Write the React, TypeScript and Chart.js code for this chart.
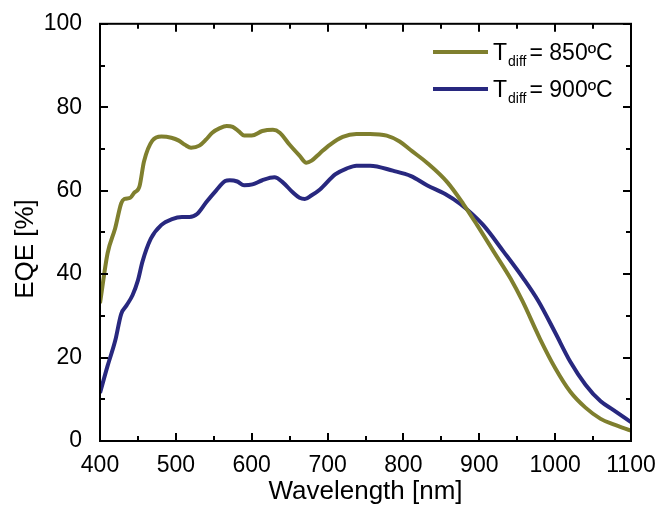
import React, { useEffect, useRef } from "react";
import { Chart, registerables } from "chart.js";

Chart.register(...registerables);

const wl850 = [400, 410, 420, 428, 432, 440, 445, 452, 458, 469, 481, 494, 504, 512, 520, 531, 540, 548, 558, 567, 575, 583, 590, 600, 614, 628, 637, 650, 663, 672, 679, 690, 703, 720, 738, 756, 778, 795, 809, 831, 858, 879, 897, 919, 941, 957, 980, 1000, 1020, 1040, 1060, 1077, 1100];
const eqe850 = [33, 45, 51, 57, 58, 58.3, 59.5, 61, 67, 72, 73, 72.7, 72, 71, 70.3, 70.8, 72.3, 73.9, 75, 75.5, 75.3, 74.2, 73.2, 73.2, 74.3, 74.6, 73.9, 71, 68.4, 66.7, 67.2, 69, 71, 72.9, 73.6, 73.6, 73.2, 71.8, 69.8, 66.7, 62, 56.8, 51.8, 45.4, 39, 33.5, 24.5, 17.5, 11.8, 8, 5.3, 4, 2.5];

const wl900 = [400, 410, 420, 428, 435, 443, 450, 456, 467, 481, 495, 508, 518, 528, 540, 553, 565, 571, 581, 590, 601, 614, 630, 641, 654, 663, 670, 679, 690, 710, 725, 738, 756, 786, 810, 831, 855, 875, 905, 932, 958, 978, 1000, 1020, 1040, 1060, 1077, 1100];
const eqe900 = [11.5, 18, 24, 30.5, 32.5, 35, 38.5, 43, 48.5, 51.8, 53.2, 53.7, 53.7, 54.4, 57.2, 60, 62.3, 62.5, 62.2, 61.3, 61.5, 62.5, 63.2, 62, 59.6, 58.3, 58, 58.9, 60.3, 63.9, 65.3, 66, 66, 64.8, 63.5, 61.3, 59.2, 56.8, 51.8, 45.4, 39, 33.5, 26, 19, 13.5, 9.5, 7.4, 4.5];

const seriesLabels = ["850ºC", "900ºC"];
const seriesColors = ["#7f7f2e", "#28287f"];
const xTitle = "Wavelength [nm]";
const yTitle = "EQE [%]";
const FONT = "'Liberation Sans', Arial, sans-serif";

const framePlugin = {
  id: "frameTicks",
  afterDraw(chart: any) {
    const { ctx, chartArea } = chart;
    const { left, right, top, bottom } = chartArea;
    const xs = chart.scales.x;
    const ys = chart.scales.y;
    ctx.save();
    ctx.strokeStyle = "#000";
    ctx.lineWidth = 2;
    ctx.strokeRect(left, top, right - left, bottom - top);
    ctx.beginPath();
    for (let v = 400; v <= 1100; v += 50) {
      const px = Math.round(xs.getPixelForValue(v));
      const len = v % 100 === 0 ? 8 : 5;
      ctx.moveTo(px, bottom);
      ctx.lineTo(px, bottom - len);
      ctx.moveTo(px, top);
      ctx.lineTo(px, top + len);
    }
    for (let v = 0; v <= 100; v += 10) {
      const py = Math.round(ys.getPixelForValue(v));
      const len = v % 20 === 0 ? 8 : 5;
      ctx.moveTo(left, py);
      ctx.lineTo(left + len, py);
      ctx.moveTo(right, py);
      ctx.lineTo(right - len, py);
    }
    ctx.stroke();

    // axis titles
    ctx.fillStyle = "#000";
    ctx.font = `26px ${FONT}`;
    ctx.textAlign = "center";
    ctx.textBaseline = "alphabetic";
    ctx.fillText(xTitle, (left + right) / 2, 499);
    ctx.save();
    ctx.translate(33, 249);
    ctx.rotate(-Math.PI / 2);
    ctx.fillText(yTitle, 0, 0);
    ctx.restore();

    // legend
    const rows = [52, 89];
    rows.forEach((y, i) => {
      ctx.strokeStyle = seriesColors[i];
      ctx.lineWidth = 4;
      ctx.beginPath();
      ctx.moveTo(433, y);
      ctx.lineTo(488, y);
      ctx.stroke();
      ctx.fillStyle = "#000";
      ctx.textAlign = "left";
      ctx.textBaseline = "alphabetic";
      ctx.font = `23px ${FONT}`;
      const base = y + 8;
      ctx.fillText("T", 493, base);
      const tw = ctx.measureText("T").width;
      ctx.font = `14px ${FONT}`;
      ctx.fillText("diff", 493 + tw + 1, base + 6);
      const sw = ctx.measureText("diff").width;
      ctx.font = `23px ${FONT}`;
      ctx.fillText("= " + seriesLabels[i], 493 + tw + sw + 4, base);
    });
    ctx.restore();
  },
};

export default function App() {
  const ref = useRef<HTMLCanvasElement>(null);
  useEffect(() => {
    if (!ref.current) return;
    const mk = (xs: number[], ys: number[]) => xs.map((x, i) => ({ x, y: ys[i] }));
    const chart = new Chart(ref.current, {
      type: "line",
      data: {
        datasets: [
          {
            label: seriesLabels[0],
            data: mk(wl850, eqe850),
            borderColor: seriesColors[0],
            borderWidth: 4,
            pointRadius: 0,
            cubicInterpolationMode: "monotone",
            fill: false,
          },
          {
            label: seriesLabels[1],
            data: mk(wl900, eqe900),
            borderColor: seriesColors[1],
            borderWidth: 4,
            pointRadius: 0,
            cubicInterpolationMode: "monotone",
            fill: false,
          },
        ],
      },
      options: {
        animation: false,
        responsive: false,
        layout: { padding: { left: 0, right: 29, top: 20, bottom: 0 } },
        plugins: { legend: { display: false }, tooltip: { enabled: false } },
        scales: {
          x: {
            type: "linear",
            min: 400,
            max: 1100,
            grid: { display: false },
            border: { display: false },
            ticks: {
              stepSize: 100,
              color: "#000",
              font: { family: FONT, size: 23 },
              padding: 3,
              maxRotation: 0,
              callback: (v: any) => String(v),
            },
            afterFit: (s: any) => {
              s.height = 79;
            },
          },
          y: {
            min: 0,
            max: 100,
            grid: { display: false },
            border: { display: false },
            ticks: {
              stepSize: 20,
              color: "#000",
              font: { family: FONT, size: 23 },
              padding: 10,
              callback: (v: any) => String(v),
            },
            afterFit: (s: any) => {
              s.width = 100;
            },
          },
        },
      },
      plugins: [framePlugin],
    });
    return () => chart.destroy();
  }, []);
  return (
    <div style={{ position: "fixed", left: 0, top: 0, width: 660, height: 520, background: "#fff" }}>
      <canvas ref={ref} width={660} height={520} style={{ display: "block" }} />
    </div>
  );
}
